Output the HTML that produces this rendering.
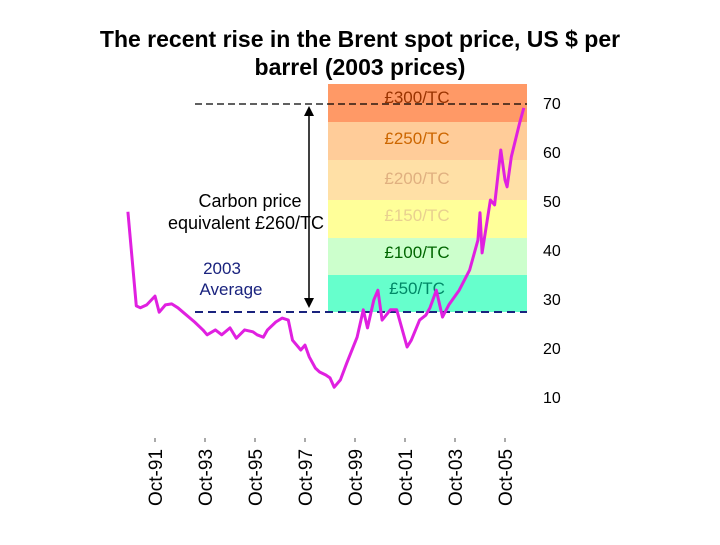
<!DOCTYPE html>
<html><head><meta charset="utf-8"><style>
body{margin:0;background:#fff;}
svg text{font-family:"Liberation Sans",Arial,sans-serif;}
</style></head><body>
<svg id="chart" width="720" height="540" viewBox="0 0 720 540" xmlns="http://www.w3.org/2000/svg">
<text x="360" y="47" text-anchor="middle" font-size="23" font-weight="bold">The recent rise in the Brent spot price, US $ per</text>
<text x="360" y="75" text-anchor="middle" font-size="23" font-weight="bold">barrel (2003 prices)</text>
<g id="bands"></g>
<g id="yticks"></g>
<g id="xticks"></g>
<line x1="195" y1="104" x2="527" y2="104" stroke="#000" stroke-width="1.3" stroke-dasharray="7,4"/>
<line x1="195" y1="312" x2="527" y2="312" stroke="#1a237e" stroke-width="2" stroke-dasharray="8,5"/>
<g>
<line x1="309" y1="114" x2="309" y2="300" stroke="#000" stroke-width="1.5"/>
<polygon points="304,116 314,116 309,106" fill="#000"/>
<polygon points="304,298 314,298 309,308" fill="#000"/>
</g>
<text x="250" y="207" text-anchor="middle" font-size="18">Carbon price</text>
<text x="246" y="229" text-anchor="middle" font-size="18">equivalent £260/TC</text>
<text x="222" y="274" text-anchor="middle" font-size="17" fill="#1a237e">2003</text>
<text x="231" y="295" text-anchor="middle" font-size="17" fill="#1a237e">Average</text>
<path id="line" fill="none" stroke="#e020e0" stroke-width="3" stroke-linejoin="round"/>
</svg>
<script>
const months=[-1,3,5,8,12,14,17,20,23,26,31,35,37,41,44,48,51,55,59,61,64,66,70,73,76,78,82,84,86,89,91,94,96,98,101,104,109,112,114,117,119,121,125,128,133,135,139,142,144,147,150,153,158,163,167,168,169,173,175,178,180,181,183,187,189];
const prices=[47.8,28.6,28.2,28.8,30.6,27.3,28.8,29.0,28.2,27.1,25.3,23.7,22.7,23.7,22.7,24.1,22.0,23.7,23.3,22.7,22.2,23.7,25.3,26.1,25.7,21.6,19.6,20.6,18.2,15.9,15.1,14.5,13.9,12.0,13.5,16.9,22.2,27.8,24.1,29.8,31.8,25.7,27.8,27.8,20.2,21.6,25.7,26.7,28.2,31.8,26.3,28.8,31.8,35.9,42.0,47.6,39.4,50.2,49.2,60.4,54.3,52.9,59.0,65.9,69.0];
const yTicks=[70,60,50,40,30,20,10];
const xLabels=["Oct-91","Oct-93","Oct-95","Oct-97","Oct-99","Oct-01","Oct-03","Oct-05"];
const xLabelMonths=[12,36,60,84,108,132,156,180];
const bandLabels=["£300/TC","£250/TC","£200/TC","£150/TC","£100/TC","£50/TC"];
const bandTops=[84,122,160,200,238,275,312];
const bandLabelY=[103,144,184,221,258,294];
const bandColors=["#ff9966","#ffcc99","#ffe0a6","#ffff99","#ccffcc","#66ffcc"];
const bandText=["#993300","#cc6600","#e0b080","#e8d090","#006600","#008866"];
const X=m=>130+m*25/12;
const Y=v=>103+(70-v)*4.9;
const NS="http://www.w3.org/2000/svg";
const bg=document.getElementById('bands');
for(let i=0;i<bandLabels.length;i++){
 const r=document.createElementNS(NS,'rect');
 r.setAttribute('x',328);r.setAttribute('y',bandTops[i]);r.setAttribute('width',199);r.setAttribute('height',bandTops[i+1]-bandTops[i]);r.setAttribute('fill',bandColors[i]);
 
 
 bg.appendChild(r);
 const t=document.createElementNS(NS,'text');
 t.setAttribute('x',417);t.setAttribute('y',bandLabelY[i]);t.setAttribute('text-anchor','middle');t.setAttribute('font-size','17');t.setAttribute('fill',bandText[i]);
 t.textContent=bandLabels[i];
 
 
 bg.appendChild(t);
}
const yg=document.getElementById('yticks');
yTicks.forEach(v=>{
 const t=document.createElementNS(NS,'text');
 t.setAttribute('x',543);t.setAttribute('y',Y(v)+6);t.setAttribute('font-size','16');
 t.textContent=v;
 
 
 yg.appendChild(t);
});
const xg=document.getElementById('xticks');
xLabels.forEach((l,i)=>{
 const x=X(xLabelMonths[i]);
 const t=document.createElementNS(NS,'text');
 t.setAttribute('transform',`translate(${x+7},506) rotate(-90)`);t.setAttribute('font-size','19');
 t.textContent=l;
 
 
 xg.appendChild(t);
 const k=document.createElementNS(NS,'line');
 k.setAttribute('x1',x);k.setAttribute('x2',x);k.setAttribute('y1',438);k.setAttribute('y2',442);k.setAttribute('stroke','#555');
 
 
 xg.appendChild(k);
});
document.getElementById('line').setAttribute('d',months.map((m,i)=>(i?'L':'M')+X(m).toFixed(1)+','+Y(prices[i]).toFixed(1)).join(' '));
</script>
</body></html>
